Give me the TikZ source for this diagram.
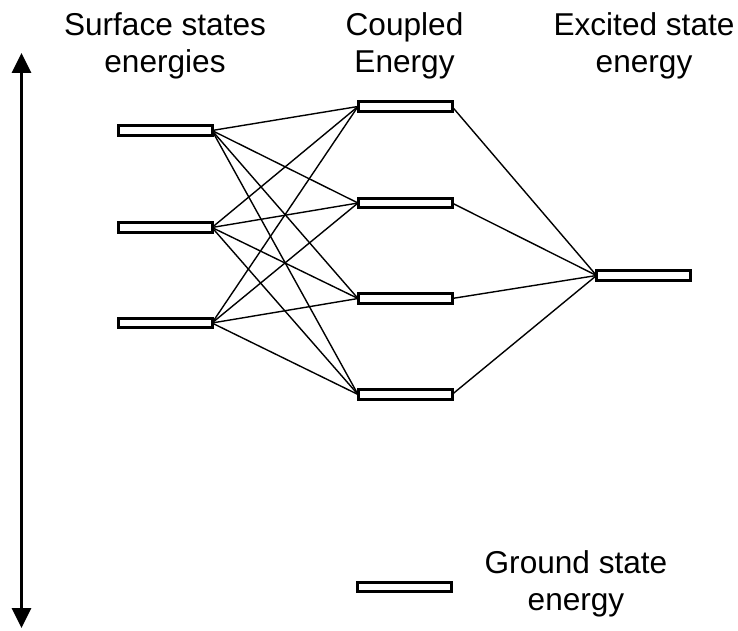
\documentclass[tikz,border=0pt]{standalone}
\usepackage{fontspec}
\setmainfont{Liberation Sans}
\usetikzlibrary{arrows.meta}
\begin{document}
\begin{tikzpicture}[x=1pt,y=-1pt,
  level/.style={draw=black,fill=white,line width=3pt,minimum width=94pt,minimum height=9.5pt,inner sep=0pt,outer sep=0pt},
  conn/.style={draw=black,line width=1.4pt},
  lbl/.style={align=center,anchor=north,inner sep=0pt,font=\fontsize{31.6}{37}\selectfont}]
\useasboundingbox (0,0) rectangle (738,631);
% labels
\node[lbl] (t1) at (165,12) {Surface states\\energies};
\node[lbl] (t2) at (404.5,12) {Coupled\\Energy};
\node[lbl] (t3) at (644,12) {Excited state\\energy};
\node[lbl] (t4) at (576,550) {Ground state\\energy};
% levels
\node[level] (l1) at (165,130.5) {};
\node[level] (l2) at (165,227.5) {};
\node[level] (l3) at (165,323) {};
\node[level] (m1) at (405,106.5) {};
\node[level] (m2) at (405,203) {};
\node[level] (m3) at (405,298.5) {};
\node[level] (m4) at (405,394.5) {};
\node[level] (e1) at (643.5,275.5) {};
\node[level] (g1) at (404.5,587) {};
% connectors
\foreach \l in {l1,l2,l3}{
  \foreach \m in {m1,m2,m3,m4}{
    \draw[conn] (\l.east) -- (\m.west);
  }
}
\foreach \m in {m1,m2,m3,m4}{
  \draw[conn] (\m.east) -- (e1.west);
}
% energy axis
\coordinate (atop) at (21.5,53);
\coordinate (abot) at (21.5,628);
\draw[line width=3pt,{Triangle[length=20pt,width=19pt]}-{Triangle[length=20pt,width=19pt]}] (atop) -- (abot);
\end{tikzpicture}
\end{document}
